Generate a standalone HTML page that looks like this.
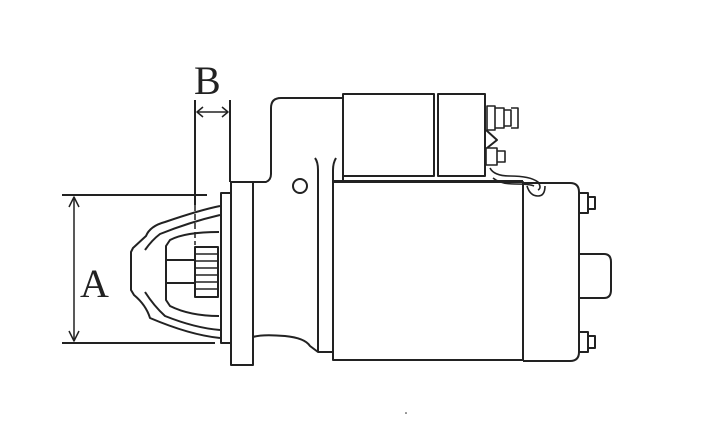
<!DOCTYPE html>
<html><head><meta charset="utf-8"><style>
html,body{margin:0;padding:0;background:#fff;width:708px;height:448px;overflow:hidden}
svg{display:block}
text{font-family:"Liberation Serif",serif;fill:#222}
</style></head><body>
<svg width="708" height="448" viewBox="0 0 708 448" fill="none" stroke="#222" stroke-width="2" stroke-linejoin="round">
<!-- dimension B -->
<text x="194" y="94" font-size="40" stroke="none">B</text>
<line x1="195" y1="100" x2="195" y2="205"/>
<line x1="195" y1="205" x2="195" y2="245" stroke-dasharray="6,3" stroke-width="1.5"/>
<line x1="230" y1="100" x2="230" y2="182"/>
<line x1="197" y1="112" x2="228" y2="112" stroke-width="1.5"/>
<path d="M203 107 L197 112 L203 117 M222 107 L228 112 L222 117" stroke-width="1.5"/>
<!-- dimension A -->
<line x1="62" y1="195" x2="207" y2="195"/>
<line x1="62" y1="343" x2="215" y2="343"/>
<line x1="74" y1="197" x2="74" y2="341" stroke-width="1.5"/>
<path d="M69 207 L74 197 L79 207 M69 331 L74 341 L79 331" stroke-width="1.5"/>
<text x="80" y="297" font-size="40" stroke="none">A</text>
<!-- nose -->
<path d="M220 206 Q200 210 165 222 Q150 226 146 236 L133 248 L131 252 L131 290 L134 295 Q146 305 150 318 Q190 335 220 338"/>
<path d="M220 215 Q190 222 160 234 Q152 240 145 250 M145 292 Q154 306 165 316 Q195 328 220 330"/>
<path d="M219 232 Q185 232 170 240 L166 246 L166 300 L170 306 Q190 316 219 316"/>
<rect x="195" y="247" width="23" height="50"/>
<path d="M195 254 H218 M195 261 H218 M195 268 H218 M195 275 H218 M195 282 H218 M195 289 H218" stroke-width="1.5"/>
<path d="M166 260 H195 M166 283 H195"/>
<!-- plate + flange -->
<rect x="221" y="193" width="10" height="150"/>
<rect x="231" y="182" width="22" height="183"/>
<!-- housing -->
<path d="M253 182 H266 Q271 180 271 174 V108 Q271 98 281 98 H343"/>
<circle cx="300" cy="186" r="7"/>
<path d="M253 337 Q262 334 285 336 Q305 338 310 346 L318 352 H333"/>
<path d="M318 352 V170 Q318 162 315 158"/>
<path d="M333 182 V170 Q333 163 336 158"/>
<!-- solenoid -->
<rect x="343" y="94" width="91" height="82"/>
<rect x="438" y="94" width="47" height="82"/>
<path d="M333 181 H523" />
<path d="M343 176 V181"/>
<!-- terminals -->
<path d="M487 106 H495 V130 H487 Z M495 108 H504 V128 H495 M504 110 H511 V126 H504 M511 108 H518 V128 H511" stroke-width="1.6"/>
<path d="M486 130 L497 140 L487 148"/>
<path d="M486 148 H497 V165 H486 Z M497 151 H505 V162 H497" stroke-width="1.6"/>
<path d="M490 168 Q494 176 510 176 Q530 176 538 182 Q542 188 538 190" stroke-width="1.6"/>
<path d="M493 178 Q500 184 515 184 Q530 184 534 186" stroke-width="1.6"/>
<path d="M527 186 Q530 196 538 196 Q545 196 545 186" stroke-width="1.6"/>
<!-- body -->
<rect x="333" y="182" width="190" height="178"/>
<!-- end cap -->
<path d="M523 183 H570 Q579 183 579 192 V352 Q579 361 570 361 H523"/>
<path d="M579 193 H588 V213 H579 M588 197 H595 V209 H588"/>
<path d="M579 332 H588 V352 H579 M588 336 H595 V348 H588"/>
<path d="M579 254 H604 Q611 254 611 262 V290 Q611 298 604 298 H579"/>
<circle cx="406" cy="413" r="0.8" fill="#222" stroke="none"/>
</svg>
</body></html>
